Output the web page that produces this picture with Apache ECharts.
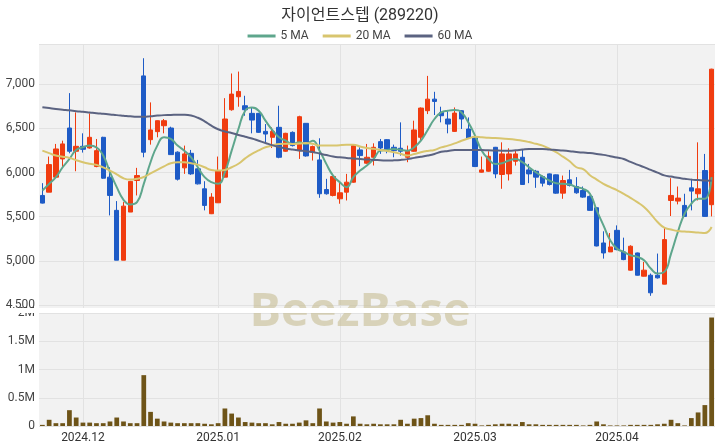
<!DOCTYPE html>
<html><head><meta charset="utf-8">
<script src="https://cdn.jsdelivr.net/npm/echarts/dist/echarts.min.js"></script>
<style>html,body{margin:0;padding:0;background:#fff}#c{width:720px;height:448px}</style>
</head><body><div id="c"></div>
<script>
const title = '자이언트스텝 (289220)';
const dates = [
'2024-11-22','2024-11-25','2024-11-26','2024-11-27','2024-11-28','2024-11-29',
'2024-12-02','2024-12-03','2024-12-04','2024-12-05','2024-12-06','2024-12-09','2024-12-10','2024-12-11','2024-12-12','2024-12-13',
'2024-12-16','2024-12-17','2024-12-18','2024-12-19','2024-12-20','2024-12-23','2024-12-24','2024-12-26','2024-12-27','2024-12-30',
'2025-01-02','2025-01-03','2025-01-06','2025-01-07','2025-01-08','2025-01-09','2025-01-10','2025-01-13','2025-01-14','2025-01-15',
'2025-01-16','2025-01-17','2025-01-20','2025-01-21','2025-01-22','2025-01-23','2025-01-24','2025-01-31',
'2025-02-03','2025-02-04','2025-02-05','2025-02-06','2025-02-07','2025-02-10','2025-02-11','2025-02-12','2025-02-13','2025-02-14',
'2025-02-17','2025-02-18','2025-02-19','2025-02-20','2025-02-21','2025-02-24','2025-02-25','2025-02-26','2025-02-27','2025-02-28',
'2025-03-03','2025-03-04','2025-03-05','2025-03-06','2025-03-07','2025-03-10','2025-03-11','2025-03-12','2025-03-13','2025-03-14',
'2025-03-17','2025-03-18','2025-03-19','2025-03-20','2025-03-21','2025-03-24','2025-03-25','2025-03-26','2025-03-27','2025-03-28','2025-03-31',
'2025-04-01','2025-04-02','2025-04-03','2025-04-04','2025-04-07','2025-04-08','2025-04-09','2025-04-10','2025-04-11',
'2025-04-14','2025-04-15','2025-04-16','2025-04-17','2025-04-18','2025-04-21'];
const opens = [5741,5778,5948,6154,6504,6241,6297,6278,6068,6399,5948,5572,5008,5553,5910,7094,6372,6463,6530,6504,
6231,6053,6218,6042,5816,5534,5658,5948,6711,6858,6756,6670,6670,6466,6399,6512,6241,6455,6248,6557,
6230,6143,5808,5741,5703,5778,5891,6256,6106,6173,6350,6372,6286,6275,6173,6241,6399,6700,6831,6681,
6606,6466,6700,6493,6406,6004,6015,6286,5978,5985,6128,6173,6030,6015,5955,5985,5974,5767,5918,5842,
5797,5730,5602,5203,5102,5346,5102,4895,5090,4827,4838,4838,4737,5684,5677,5628,5827,5760,6023,5636];
const closes = [5654,6090,6267,6324,6241,6297,6263,6399,6248,5936,5741,5008,5620,5900,5966,6230,6482,6587,6587,6203,
5925,6211,5985,5872,5628,5722,6023,6606,6888,6918,6711,6594,6455,6436,6466,6173,6444,6305,6632,6188,
6294,5760,5760,5955,5771,5891,6305,6192,6173,6286,6278,6256,6248,6241,6241,6482,6730,6831,6805,6643,
6549,6673,6606,6391,6068,6030,6184,5985,6211,6211,6211,5865,5985,5948,5880,5865,5767,5910,5854,5771,
5722,5572,5169,5090,5158,5128,5015,5166,4838,4895,4639,4808,5241,5741,5711,5504,5790,5816,5504,7170];
const lows = [5650,5778,5940,6060,6218,6015,6226,6270,6060,5930,5515,5008,5008,5553,5741,6173,6316,6399,6444,6200,
5910,5985,5974,5865,5572,5530,5655,5945,6700,6745,6643,6444,6450,6331,6278,6162,6235,6295,6154,6180,
6136,5714,5750,5730,5647,5684,5885,6072,6100,6080,6211,6218,6173,6192,6117,6235,6361,6662,6651,6568,
6444,6460,6493,6385,6062,6000,6010,5936,5816,5910,6079,5860,5880,5827,5842,5854,5760,5703,5842,5760,
5714,5568,5165,5026,5100,5120,5008,4890,4835,4824,4605,4800,4735,5508,5640,5500,5572,5684,5500,5504];
const highs = [5880,6181,6324,6361,6899,6681,6444,6670,6380,6405,6060,5677,5666,5906,6053,7294,6794,6590,6606,6519,
6240,6305,6256,6143,5902,5767,6181,6842,7121,7143,6869,6737,6675,6549,6512,6756,6450,6466,6643,6560,
6305,6388,5929,5985,5902,5985,6310,6286,6324,6331,6380,6378,6316,6568,6305,6587,6737,7094,6914,6745,
6707,6737,6705,6624,6410,6181,6241,6290,6342,6275,6256,6256,6098,6030,5966,5990,5978,5966,6030,5948,
5842,5741,5606,5335,5316,5402,5263,5177,5094,4989,4857,5083,5376,5936,5842,5760,5929,6342,6211,7175];
const volumes = [0.02,0.11,0.05,0.05,0.28,0.15,0.06,0.06,0.05,0.05,0.08,0.15,0.08,0.05,0.05,0.90,0.25,0.13,0.08,0.06,
0.05,0.05,0.05,0.05,0.04,0.03,0.05,0.31,0.22,0.15,0.07,0.06,0.05,0.05,0.03,0.07,0.04,0.04,0.06,0.10,
0.05,0.31,0.08,0.06,0.07,0.04,0.17,0.04,0.03,0.04,0.03,0.03,0.03,0.11,0.04,0.13,0.14,0.19,0.04,0.02,
0.02,0.02,0.02,0.05,0.04,0.01,0.02,0.03,0.04,0.04,0.03,0.07,0.03,0.03,0.02,0.02,0.02,0.02,0.02,0.02,
0.01,0.02,0.08,0.03,0.01,0.01,0.01,0.02,0.02,0.02,0.02,0.03,0.04,0.11,0.05,0.01,0.14,0.24,0.37,1.92];
const ma5 = [5797,5872,5948,6060,6154,6256,6286,6305,6286,6192,6004,5835,5692,5639,5666,5872,6117,6305,6399,6380,
6305,6248,6173,6060,5948,5891,5872,6004,6248,6493,6700,6737,6700,6587,6482,6399,6361,6324,6342,6324,
6361,6248,6098,5966,5891,5835,5948,6023,6079,6154,6248,6256,6267,6256,6248,6286,6361,6482,6606,6681,
6700,6707,6681,6568,6418,6248,6154,6098,6106,6136,6154,6117,6060,6004,5955,5910,5880,5872,5865,5835,
5816,5760,5572,5402,5233,5139,5102,5064,5045,5008,4914,4857,4876,5083,5327,5534,5647,5703,5703,5948];
const ma20 = [6248,6220,6192,6180,6166,6140,6117,6100,6087,6058,6023,5980,5935,5920,5929,5950,5990,6030,6070,6106,
6117,6117,6105,6090,6060,6030,6023,6030,6060,6100,6160,6211,6250,6286,6305,6324,6326,6324,6328,6335,
6325,6305,6305,6305,6310,6314,6316,6295,6278,6268,6256,6244,6230,6212,6192,6210,6230,6245,6256,6285,
6305,6330,6360,6385,6406,6400,6394,6390,6385,6380,6372,6361,6345,6325,6305,6270,6230,6180,6128,6060,
6040,5970,5920,5872,5835,5800,5760,5714,5665,5610,5530,5440,5376,5355,5338,5332,5327,5322,5316,5384];
const ma60 = [6740,6730,6720,6712,6705,6695,6688,6680,6672,6665,6658,6650,6643,6636,6632,6632,6638,6645,6650,6652,
6655,6654,6645,6620,6580,6530,6490,6465,6448,6425,6405,6385,6360,6335,6310,6290,6272,6260,6250,6242,
6232,6215,6198,6182,6172,6165,6160,6154,6148,6143,6140,6136,6138,6143,6152,6166,6178,6192,6210,6235,
6245,6255,6256,6256,6256,6255,6252,6250,6248,6248,6252,6260,6266,6267,6267,6262,6256,6250,6242,6232,
6226,6220,6211,6200,6185,6170,6154,6120,6090,6062,6030,6000,5968,5955,5940,5930,5920,5915,5910,5908];
const maNames = ['5 MA','20 MA','60 MA'];
const yTickStep = 500;
const volTickStep = 0.5;

const FONT = 'Roboto, "Noto Sans CJK KR", sans-serif';
const UP = '#f03c10', DOWN = '#1e5bc6';
const candles = dates.map((d, i) => [opens[i], closes[i], lows[i], highs[i]]);
const volData = volumes.map(v => v * 1e6);
const monthStart = new Set();
dates.forEach((d, i) => { if (i > 0 && d.slice(0, 7) !== dates[i - 1].slice(0, 7)) monthStart.add(i); });
const isMonth = (i) => monthStart.has(i);
const gridLine = { show: true, interval: isMonth, alignWithLabel: true, lineStyle: { color: '#e2e2e2', width: 1 } };

const chart = echarts.init(document.getElementById('c'), null, { renderer: 'canvas' });
chart.setOption({
  animation: false,
  backgroundColor: '#ffffff',
  textStyle: { fontFamily: FONT },
  title: { text: title, left: 'center', top: 3, textStyle: { fontSize: 16, fontWeight: 'normal', color: '#333', fontFamily: FONT } },
  legend: {
    top: 25, left: 'center', itemWidth: 28, itemHeight: 3, itemGap: 14, icon: 'rect',
    textStyle: { fontSize: 12, color: '#444', fontFamily: FONT },
    data: maNames
  },
  grid: [
    { left: 39, right: 5, top: 44, bottom: 140, show: true, backgroundColor: '#f2f2f2', borderWidth: 0, containLabel: false },
    { left: 39, right: 5, top: 313, bottom: 22, show: true, backgroundColor: '#f2f2f2', borderWidth: 0, containLabel: false }
  ],
  xAxis: [
    { type: 'category', gridIndex: 0, data: dates, boundaryGap: true,
      axisLine: { show: false }, axisTick: { show: false }, axisLabel: { show: false }, splitLine: gridLine },
    { type: 'category', gridIndex: 1, data: dates, boundaryGap: true,
      axisLine: { show: false }, axisTick: { show: false },
      axisLabel: { show: true, interval: isMonth, margin: 6, fontSize: 12, color: '#333', fontFamily: FONT,
        formatter: v => v.slice(0, 4) + '.' + v.slice(5, 7) },
      splitLine: gridLine }
  ],
  yAxis: [
    { type: 'value', gridIndex: 0, min: 4467, max: 7455, splitNumber: 5, scale: true,
      axisLine: { show: false }, axisTick: { show: false },
      axisLabel: { fontSize: 12, color: '#444', margin: 4, fontFamily: FONT,
        formatter: v => (Math.abs(v % yTickStep) < 1e-6) ? v.toLocaleString('en-US') : '' },
      splitLine: { show: true, lineStyle: { color: '#e2e2e2' } } },
    { type: 'value', gridIndex: 1, min: 0, max: 2e6, interval: volTickStep * 1e6,
      axisLine: { show: false }, axisTick: { show: false },
      axisLabel: { fontSize: 12, color: '#444', margin: 4, fontFamily: FONT,
        formatter: v => v === 0 ? '0' : (v / 1e6) + 'M' },
      splitLine: { show: true, lineStyle: { color: '#e2e2e2' } } }
  ],
  graphic: [
    { type: 'text', z: 50, left: 'center', top: 289, silent: true,
      style: { text: 'BeezBase', font: 'bold 47px "Open Sans", sans-serif', fill: 'rgba(200,190,150,0.62)' } },
    { type: 'rect', z: 51, silent: true, shape: { x: 0, y: 308, width: 720, height: 5 }, style: { fill: '#ffffff' } }
  ],
  series: [
    { name: 'candle', type: 'candlestick', xAxisIndex: 0, yAxisIndex: 0, data: candles, barWidth: '72%',
      itemStyle: { color: UP, color0: DOWN, borderColor: UP, borderColor0: DOWN, borderWidth: 1 } },
    { name: maNames[0], type: 'line', xAxisIndex: 0, yAxisIndex: 0, data: ma5, smooth: true, symbol: 'none',
      lineStyle: { color: '#5ea68c', width: 2 }, itemStyle: { color: '#5ea68c' } },
    { name: maNames[1], type: 'line', xAxisIndex: 0, yAxisIndex: 0, data: ma20, smooth: true, symbol: 'none',
      lineStyle: { color: '#d8c56e', width: 2 }, itemStyle: { color: '#d8c56e' } },
    { name: maNames[2], type: 'line', xAxisIndex: 0, yAxisIndex: 0, data: ma60, smooth: true, symbol: 'none',
      lineStyle: { color: '#5b6381', width: 2 }, itemStyle: { color: '#5b6381' } },
    { name: 'volume', type: 'bar', xAxisIndex: 1, yAxisIndex: 1, data: volData, barWidth: '70%',
      itemStyle: { color: '#6e5418' } }
  ]
});
</script>
</body></html>
